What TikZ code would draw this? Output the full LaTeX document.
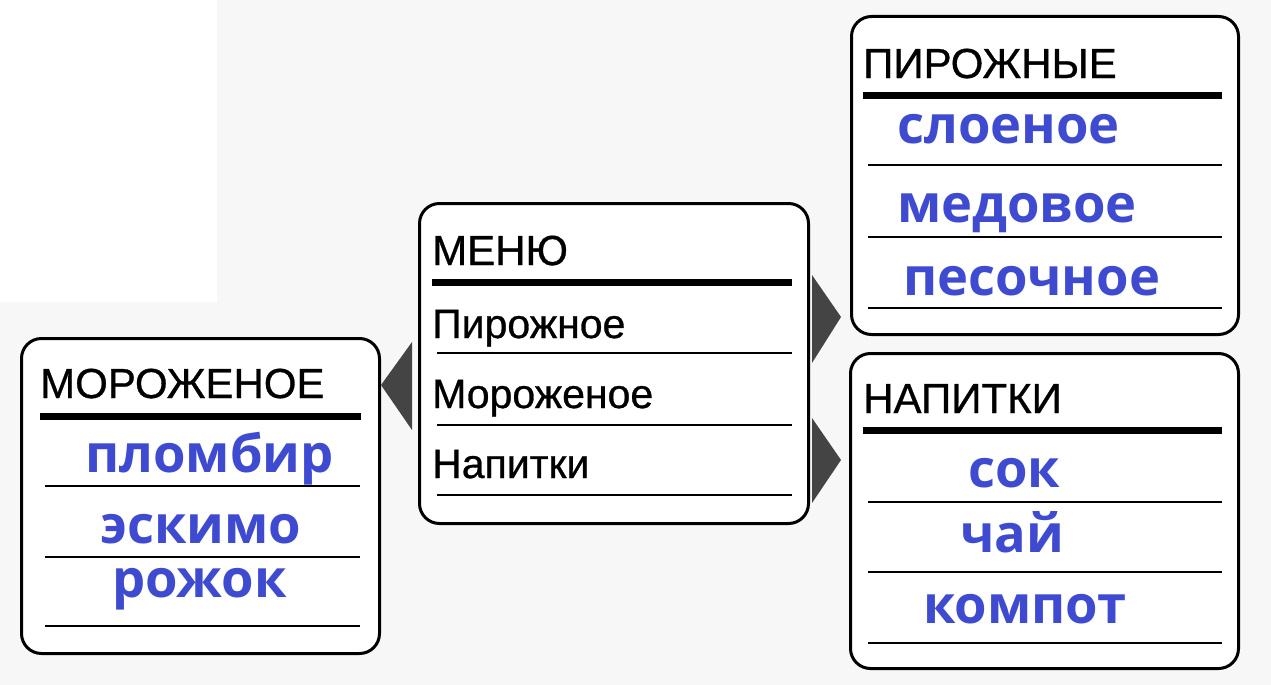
\documentclass[tikz,border=0pt]{standalone}
\usepackage{fontspec}
\setmainfont{Liberation Sans}
\newfontfamily\inkfont{Liberation Sans}[FakeBold=0.7]
\newfontfamily\bluefont{Open Sans}
\definecolor{itemblue}{RGB}{62,75,208}
\definecolor{arrowgray}{RGB}{68,68,68}
\definecolor{bgscan}{RGB}{247,247,247}
\begin{document}
\begin{tikzpicture}[x=1pt,y=-1pt,
  box/.style={draw, line width=3pt, rounded corners=20pt, fill=white, inner sep=0pt, anchor=north west},
  title/.style={anchor=base west, inner sep=0pt, font=\inkfont\fontsize{42}{48}\selectfont},
  item/.style={anchor=base west, inner sep=0pt, font=\inkfont\fontsize{41}{46}\selectfont},
  blue/.style={anchor=base west, inner sep=0pt, text=itemblue, font=\bluefont\bfseries\fontsize{52.5}{58}\selectfont},
  thickrule/.style={line width=7pt},
  thinrule/.style={line width=2.8pt},
  tri/.style={fill=arrowgray}]
\fill[bgscan] (0,0) rectangle (1271,685);
\fill[white] (0,0) rectangle (217,302);
\useasboundingbox (0,0) rectangle (1271,685);

% boxes
\node[box, minimum width=358pt, minimum height=315pt] (ice) at (20,337) {};
\node[box, minimum width=389pt, minimum height=320pt] (menu) at (418,202) {};
\node[box, minimum width=387pt, minimum height=318pt] (cake) at (850,15) {};
\node[box, minimum width=388pt, minimum height=315pt] (drink) at (849,352) {};

% МЕНЮ
\node[title] (menut) at (432,265) {МЕНЮ};
\draw[thickrule] (432,282) -- (792,282);
\node[item] (m1) at (432,338) {Пирожное};
\draw[thinrule] (437,353) -- (792,353);
\node[item] (m2) at (432,408) {Мороженое};
\draw[thinrule] (437,425) -- (792,425);
\node[item] (m3) at (432,478) {Напитки};
\draw[thinrule] (437,495) -- (792,495);

% МОРОЖЕНОЕ
\node[title] (icet) at (40,398) {МОРОЖЕНОЕ};
\draw[thickrule] (40,416) -- (361,416);
\node[blue] (i1) at (85,472) {пломбир};
\draw[thinrule] (45,486) -- (360,486);
\node[blue] (i2) at (100,543) {эскимо};
\draw[thinrule] (45,557) -- (360,557);
\node[blue] (i3) at (112,597) {рожок};
\draw[thinrule] (45,626) -- (360,626);

% ПИРОЖНЫЕ
\node[title] (caket) at (863,78) {ПИРОЖНЫЕ};
\draw[thickrule] (863,95) -- (1222,95);
\node[blue] (c1) at (897,143) {слоеное};
\draw[thinrule] (868,165) -- (1222,165);
\node[blue] (c2) at (897,222) {медовое};
\draw[thinrule] (868,237) -- (1222,237);
\node[blue] (c3) at (903,295) {песочное};
\draw[thinrule] (868,308) -- (1222,308);

% НАПИТКИ
\node[title] (drinkt) at (863,413) {НАПИТКИ};
\draw[thickrule] (863,430) -- (1222,430);
\node[blue] (d1) at (968,487) {сок};
\draw[thinrule] (868,502) -- (1222,502);
\node[blue] (d2) at (960,552) {чай};
\draw[thinrule] (868,572) -- (1222,572);
\node[blue] (d3) at (923,623) {компот};
\draw[thinrule] (868,643) -- (1222,643);

% arrows
\fill[tri] (412,342) -- (381,385) -- (412,430) -- cycle;
\fill[tri] (812,275) -- (841,317) -- (812,363) -- cycle;
\fill[tri] (812,418) -- (841,460) -- (812,503) -- cycle;
\end{tikzpicture}
\end{document}
